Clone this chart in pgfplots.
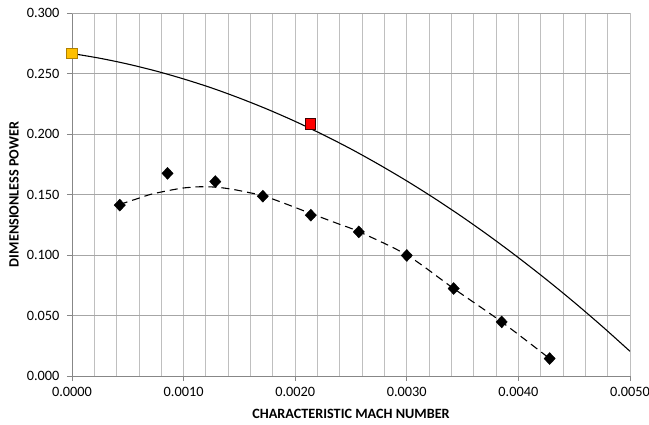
\documentclass[border=0pt]{standalone}
\usepackage{pgfplots}
\pgfplotsset{compat=1.18}
\usepackage{pgfplotstable}
\usepackage{fontspec}
\setmainfont{Carlito}
\definecolor{gold}{HTML}{FFC000}
\definecolor{goldedge}{HTML}{B08000}

\pgfplotstableread{
x y
0.00000 0.2665
0.00025 0.2626
0.00050 0.2578
0.00075 0.2521
0.00100 0.2455
0.00125 0.2381
0.00150 0.2297
0.00175 0.2205
0.00200 0.2104
0.00225 0.1994
0.00250 0.1876
0.00275 0.1748
0.00300 0.1612
0.00325 0.1467
0.00350 0.1313
0.00375 0.1150
0.00400 0.0978
0.00425 0.0798
0.00450 0.0609
0.00475 0.0411
0.00500 0.0204
}\solidcurve

\pgfplotstableread{
x y
0.000428 0.1418
0.000600 0.1470
0.000700 0.1500
0.000850 0.1530
0.001000 0.1554
0.001150 0.1564
0.001300 0.1560
0.001450 0.1541
0.001600 0.1513
0.001707 0.1492
0.001900 0.1428
0.002140 0.1343
0.002400 0.1253
0.002570 0.1193
0.003000 0.1000
0.003420 0.0723
0.003850 0.0447
0.004280 0.0144
}\dashcurve

\pgfplotstableread{
x y
0.000428 0.1412
0.000856 0.1675
0.001284 0.1607
0.001710 0.1486
0.002140 0.1329
0.002570 0.1191
0.003000 0.0996
0.003420 0.0723
0.003850 0.0447
0.004280 0.0144
}\diamonds

\begin{document}
\begin{tikzpicture}
\begin{axis}[
  name=ax,
  scale only axis,
  width=558bp, height=363bp,
  xmin=0, xmax=0.005, ymin=0, ymax=0.3,
  axis x line*=bottom, axis y line*=left,
  axis line style={color=black!47, line width=0.9bp, -},
  xtick={0,0.001,0.002,0.003,0.004,0.005},
  minor xtick={0.0002,0.0004,0.0006,0.0008,0.0012,0.0014,0.0016,0.0018,0.0022,0.0024,0.0026,0.0028,0.0032,0.0034,0.0036,0.0038,0.0042,0.0044,0.0046,0.0048},
  ytick={0,0.05,0.1,0.15,0.2,0.25,0.3},
  xmajorgrids, xminorgrids, ymajorgrids,
  x grid style={color=black!25, line width=0.9bp},
  y grid style={color=black!35, line width=0.9bp},
  extra x ticks={0.005}, extra x tick labels={},
  extra x tick style={grid style={color=black, line width=1bp}, major tick length=0pt},
  extra y ticks={0.3}, extra y tick labels={},
  extra y tick style={grid style={color=black!80, line width=1bp}, major tick length=0pt},
  tick align=outside,
  major tick length=5bp, minor tick length=0pt,
  tick style={color=black!47, line width=0.9bp},
  scaled x ticks=false, scaled y ticks=false,
  /pgf/number format/assume math mode=true,
  ticklabel style={font=\fontsize{14.3bp}{16bp}\selectfont, text=black},
  x tick label style={/pgf/number format/.cd, fixed, fixed zerofill, precision=4, /tikz/.cd, yshift=-3bp},
  y tick label style={/pgf/number format/.cd, fixed, fixed zerofill, precision=3, /tikz/.cd, xshift=-4bp},
  xlabel={CHARACTERISTIC MACH NUMBER},
  ylabel={DIMENSIONLESS POWER},
  every axis x label/.style={at={(axis description cs:0.5,0)}, anchor=center, yshift=-38bp, font=\fontsize{14.2bp}{16bp}\selectfont\bfseries},
  every axis y label/.style={at={(axis description cs:0,0.5)}, anchor=center, xshift=-58bp, rotate=90, font=\fontsize{14.2bp}{16bp}\selectfont\bfseries},
  clip mode=individual,
]
\addplot[black, line width=1.1bp, smooth, no markers] table[x=x,y=y] {\solidcurve};
\addplot[black, line width=1.1bp, smooth, no markers, dash pattern=on 8bp off 5bp] table[x=x,y=y] {\dashcurve};
\addplot[only marks, mark=diamond*, mark size=6bp, black, mark options={xscale=1.25}] table[x=x,y=y] {\diamonds};
\addplot[only marks, mark=square*, mark size=5.3bp, mark options={fill=gold, draw=goldedge, line width=0.9bp}] coordinates {(0,0.2665)};
\addplot[only marks, mark=square*, mark size=5.3bp, mark options={fill=red, draw=black!75!red, line width=0.9bp}] coordinates {(0.002135,0.2082)};
\end{axis}
\pgfresetboundingbox
\useasboundingbox ([shift={(-72bp,-49bp)}]ax.south west) rectangle ([shift={(19bp,13bp)}]ax.north east);
\end{tikzpicture}
\end{document}
